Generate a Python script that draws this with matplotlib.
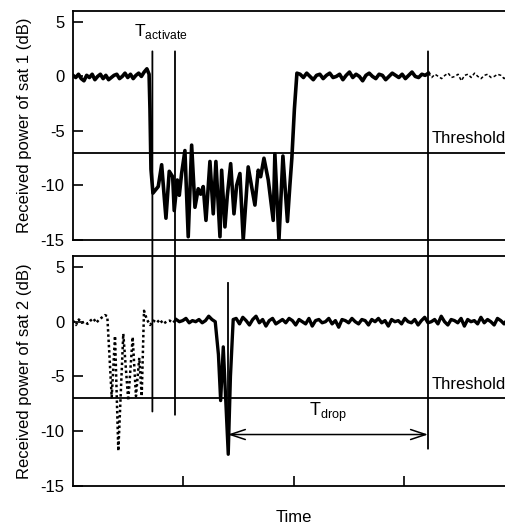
import numpy as np
import matplotlib.pyplot as plt
from matplotlib.patches import ConnectionPatch

plt.rcParams['font.family'] = ['Liberation Sans', 'DejaVu Sans']
plt.rcParams['axes.unicode_minus'] = False

# --- sat 1 received power (dB) ---
# flat part before the fade, sampled over t = 0 .. 6.7
sat1_pre = [0.1, -0.1, 0.2, -0.2, -0.4, 0.1, -0.1, 0.2, -0.3, 0.0, 0.2, -0.2, 0.1, -0.3,
            -0.1, 0.1, 0.2, -0.2, 0.0, 0.3, -0.1, 0.2, -0.2, 0.1, 0.3, 0.0, 0.4, 0.7]
# the fade itself
sat1_fade_t = [6.9, 6.98, 7.07, 7.25, 7.73, 8.04, 8.43, 8.73, 9.04, 9.18, 9.46, 9.64, 9.85,
               10.15, 10.45, 10.76, 11.06, 11.36, 11.58, 11.81, 12.06, 12.42, 12.72, 12.96,
               13.33, 13.48, 13.78, 13.99, 14.30, 14.60, 14.84, 15.14, 15.44, 15.89, 16.20,
               16.50, 16.80, 17.02, 17.32, 17.71, 18.16, 18.31, 18.68, 19.04, 19.45, 19.67,
               19.85, 20.08, 20.31]
sat1_fade_db = [0.2, -3.0, -8.5, -10.7, -10.1, -8.1, -13.0, -8.7, -9.2, -12.3, -9.5, -10.9, -8.9,
                -6.8, -14.7, -6.3, -12.0, -10.3, -10.8, -10.1, -13.2, -7.8, -12.6, -7.8,
                -14.7, -8.6, -13.8, -11.0, -8.0, -12.6, -10.0, -8.9, -15.0, -8.3, -10.1,
                -11.8, -8.6, -9.2, -7.5, -9.5, -13.2, -7.1, -15.0, -7.3, -13.3, -10.0,
                -7.5, -3.0, 0.3]
# flat part after recovery, t = 20.6 .. 40
sat1_post = [0.2, -0.1, 0.3, 0.0, -0.3, 0.1, 0.2, -0.2, 0.1, 0.3, -0.1, 0.0, 0.2, -0.3, 0.1,
             0.4, -0.1, 0.2, 0.0, -0.4, 0.1, 0.3, 0.0, -0.2, 0.2, 0.1, -0.3, 0.0, 0.3, 0.1,
             -0.1, 0.2, -0.2, 0.1, 0.4, 0.0, -0.1, 0.2, 0.1, 0.3, -0.1, 0.2, 0.0, -0.2, 0.1,
             0.3, -0.1, 0.0, 0.2, -0.4, 0.1, 0.2, -0.1, 0.3, 0.0, -0.2, 0.1, 0.2, -0.1, 0.0,
             0.2, 0.1, -0.2, 0.1, 0.0, 0.2]

# --- sat 2 received power (dB) ---
sat2_pre = [0.1, -0.3, 0.2, -0.1, 0.0, -0.2, 0.1, 0.3, -0.1, 0.2, 0.4, 0.6]  # t 0 .. 2.9
sat2_block_t = [3.11, 3.51, 3.81, 4.11, 4.56, 5.01, 5.41, 5.71, 6.01, 6.23, 6.44]
sat2_block_db = [0.5, -6.9, -1.3, -11.8, -1.1, -7.2, -1.4, -6.8, -3.3, -6.8, 1.0]
sat2_mid = [0.2, -0.3, 0.1, -0.1, 0.2, -0.2, 0.0, 0.1, -0.1, 0.2, 0.0, 0.1, 0.3, -0.1,
            0.1, 0.0, 0.2, -0.1, 0.1, 0.5, 0.2, 0.0]  # t 6.7 .. 12.9
sat2_dip_t = [13.19, 13.39, 13.63, 14.08, 14.28, 14.53]
sat2_dip_db = [-3.0, -7.2, -2.3, -12.1, -5.0, 0.2]
sat2_post = [0.3, -0.2, 0.4, 0.1, -0.3, 0.2, 0.5, -0.1, 0.2, -0.4, 0.1, 0.3, -0.2, 0.0, 0.2,
             -0.1, 0.3, 0.1, -0.3, 0.2, 0.0, -0.2, 0.3, -0.4, 0.1, 0.2, -0.1, 0.0, 0.3, -0.2,
             0.1, -0.5, 0.2, 0.1, -0.1, 0.3, 0.0, -0.2, 0.2, 0.1, -0.3, 0.2, 0.0, 0.3, -0.1,
             0.1, -0.4, 0.2, 0.0, 0.1, -0.2, 0.3, 0.0, -0.1, 0.2, -0.3, 0.1, 0.4, -0.1, 0.0,
             0.2, -0.2, 0.5, 0.0, -0.3, 0.2, 0.1, -0.1, 0.3, -0.4, 0.2, 0.0, 0.1, -0.2, 0.4,
             -0.1, 0.2, 0.0, -0.3, 0.3, 0.1, -0.2, 0.2, 0.0, 0.1]  # t 14.8 .. 40

threshold_db = -7
t_activate = [7.2, 9.25]
t_drop = [14.05, 32.2]

t1 = np.concatenate([np.linspace(0, 6.7, len(sat1_pre)), sat1_fade_t,
                     np.linspace(20.6, 40, len(sat1_post))])
p1 = np.concatenate([sat1_pre, sat1_fade_db, sat1_post])
t2 = np.concatenate([np.linspace(0, 2.9, len(sat2_pre)), sat2_block_t,
                     np.linspace(6.7, 12.9, len(sat2_mid)), sat2_dip_t,
                     np.linspace(14.8, 40, len(sat2_post))])
p2 = np.concatenate([sat2_pre, sat2_block_db, sat2_mid, sat2_dip_db, sat2_post])


def split(t, p, t_switch):
  i = np.searchsorted(t, t_switch)
  return (t[:i + 1], p[:i + 1]), (t[i:], p[i:])


fig = plt.figure(figsize=(5.06, 5.24), dpi=100)
ax1 = fig.add_axes([0.1443, 0.542, 0.8715, 0.437])
ax2 = fig.add_axes([0.1443, 0.0725, 0.8715, 0.439])

# sat 1: solid until T_drop ends, dotted afterwards
(a_t, a_p), (b_t, b_p) = split(t1, p1, t_drop[1])
ax1.plot(a_t, a_p, color="black", lw=2.6)
ax1.plot(b_t, b_p, color="black", lw=1.1, linestyle=(0, (2, 1.5)))

# sat 2: dotted until activated, solid afterwards
(a_t, a_p), (b_t, b_p) = split(t2, p2, t_activate[1])
ax2.plot(a_t, a_p, color="black", lw=1.8, linestyle=(0, (1, 1.1)))
ax2.plot(b_t, b_p, color="black", lw=2.4)

for ax in (ax1, ax2):
  ax.axhline(threshold_db, color="black", lw=1.3)
  ax.text(32.55, -5.7, "Threshold", fontsize=12, va="center", ha="left")
  ax.set_xlim(0, 40)
  ax.set_ylim(-15, 6)
  ax.set_yticks([5, 0, -5, -10, -15])
  ax.set_yticklabels(["5", "0", "-5", "-10", "-15"])
  ax.tick_params(axis="y", direction="in", length=7, width=1.2, labelsize=12, pad=6)
  for s in ax.spines.values():
    s.set_linewidth(1.3)

ax1.set_xticks([])
ax2.set_xticks([10, 20, 30])
ax2.set_xticklabels([])
ax2.tick_params(axis="x", direction="in", length=7, width=1.2)

ax1.set_ylabel("Received power of sat 1 (dB)", fontsize=12, labelpad=6)
ax2.set_ylabel("Received power of sat 2 (dB)", fontsize=12, labelpad=6)
ax2.set_xlabel("Time", fontsize=12, labelpad=14)

# marker lines running across both panels
for x, y_end in [(t_activate[0], -8.2), (t_activate[1], -8.5), (t_drop[1], -11.6)]:
  fig.add_artist(ConnectionPatch(xyA=(x, 2.3), coordsA="data", axesA=ax1,
                                 xyB=(x, y_end), coordsB="data", axesB=ax2,
                                 color="black", lw=1.3))
ax2.plot([t_drop[0], t_drop[0]], [3.5, -12.0], color="black", lw=1.3)

ax1.text(8.0, 4.1, r"T$_\mathregular{activate}$", fontsize=12.5, ha="center", va="center")
ax2.text(23.1, -8.3, r"T$_\mathregular{drop}$", fontsize=13, ha="center", va="center")
ax2.annotate("", xy=(t_drop[0], -10.3), xytext=(t_drop[1], -10.3),
             arrowprops=dict(arrowstyle="<->,head_length=0.9,head_width=0.3",
                             color="black", lw=1.1, shrinkA=0, shrinkB=0,
                             mutation_scale=12))

fig.savefig("out.png", dpi=100)
